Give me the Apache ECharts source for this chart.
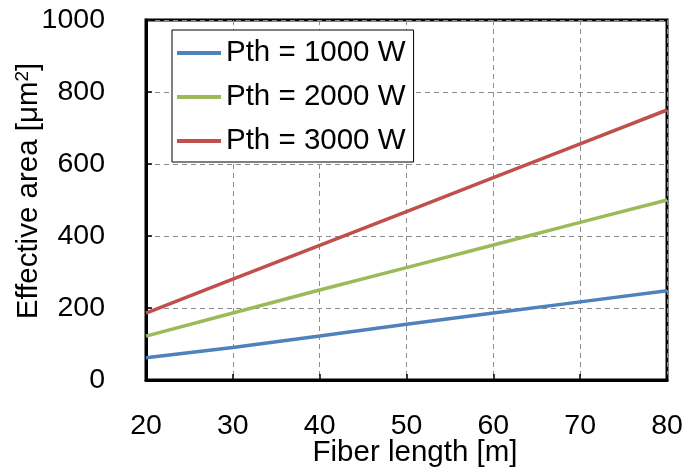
<!DOCTYPE html>
<html><head><meta charset="utf-8">
<script src="https://cdn.jsdelivr.net/npm/echarts@6/dist/echarts.min.js"></script>
<style>html,body{margin:0;padding:0;background:#fff}#c{width:685px;height:471px}</style>
</head><body><div id="c"></div>
<script>
const fiberLength = [20, 30, 40, 50, 60, 70, 80];
const pth1000 = [62, 90, 122, 155, 186, 217, 248];
const pth2000 = [122, 186, 250, 312, 375, 438, 500];
const pth3000 = [186, 280, 374, 468, 562, 656, 750];
const seriesNames = ['Pth = 1000 W', 'Pth = 2000 W', 'Pth = 3000 W'];
const colors = ['#4F81BD', '#9BBB59', '#C0504D'];
const allSeries = [pth1000, pth2000, pth3000];
const xTitle = 'Fiber length [m]';
const yTitle = 'Effective area [μm{sup|2}]';
const FONT = 'Liberation Sans, Arial, sans-serif';

const chart = echarts.init(document.getElementById('c'));
chart.setOption({
  animation: false,
  grid: { left: 146, right: 18, top: 20, bottom: 91, show: true, borderColor: '#000', borderWidth: 3, backgroundColor: 'transparent', containLabel: false, outerBoundsMode: 'none' },
  legend: {
    orient: 'vertical', left: 172, top: 30,
    backgroundColor: '#fff', borderColor: '#000', borderWidth: 1,
    padding: [8, 8, 6, 5], itemGap: 14, itemWidth: 44, itemHeight: 4,
    icon: 'rect',
    textStyle: { fontFamily: FONT, fontSize: 29.5, color: '#000', lineHeight: 28 },
    data: seriesNames
  },
  graphic: [
    { type: 'text', x: 415, y: 453, style: { text: xTitle, fontFamily: FONT, fontSize: 29.5, fill: '#000', align: 'center', verticalAlign: 'middle' } },
    { type: 'text', x: 29, y: 191, rotation: Math.PI / 2,
      style: { text: yTitle, fontFamily: FONT, fontSize: 29.5, fill: '#000', align: 'center', verticalAlign: 'middle',
        rich: { sup: { fontFamily: FONT, fontSize: 19, fill: '#000', verticalAlign: 'top', padding: [0, 0, 12, 0] } } } }
  ],
  xAxis: {
    type: 'value', min: 20, max: 80, interval: 10,
    axisLine: { show: true, onZero: false, lineStyle: { color: '#000', width: 3 } },
    axisTick: { show: true, inside: true, length: 6, lineStyle: { color: '#000', width: 1.5 } },
    axisLabel: { fontFamily: FONT, fontSize: 28.5, color: '#000', margin: 32, formatter: v => String(v) },
    splitLine: { show: true, lineStyle: { color: '#8c8c8c', type: [5, 4], width: 1 } }
  },
  yAxis: {
    type: 'value', min: 0, max: 1000, interval: 200,
    axisLine: { show: true, lineStyle: { color: '#000', width: 3 } },
    axisTick: { show: true, inside: true, length: 6, lineStyle: { color: '#000', width: 1.5 } },
    axisLabel: { fontFamily: FONT, fontSize: 28.5, color: '#000', margin: 41, formatter: v => String(v) },
    splitLine: { show: true, lineStyle: { color: '#8c8c8c', type: [5, 4], width: 1 } }
  },
  series: allSeries.map((vals, i) => ({
    name: seriesNames[i], type: 'line', showSymbol: false, symbol: 'none',
    color: colors[i],
    lineStyle: { color: colors[i], width: 3.5 },
    data: fiberLength.map((x, j) => [x, vals[j]])
  }))
});
</script></body></html>
